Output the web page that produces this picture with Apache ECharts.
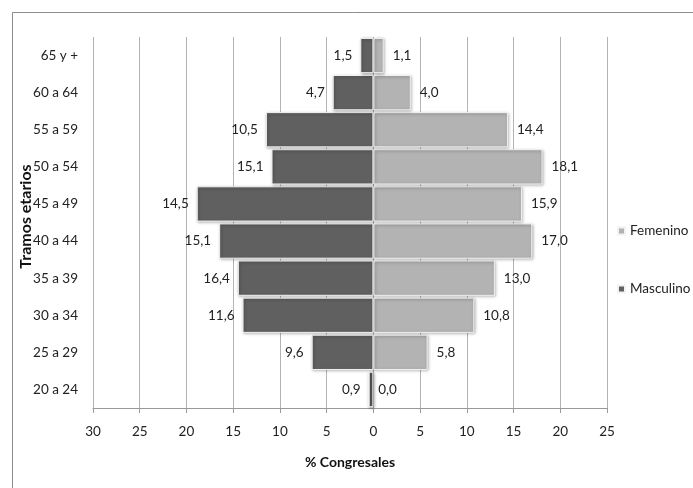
<!DOCTYPE html>
<html>
<head>
<meta charset="utf-8">
<script src="https://cdn.jsdelivr.net/npm/echarts@6/dist/echarts.min.js"></script>
<style>html,body{margin:0;padding:0;background:#fff;}#c{width:693px;height:488px;}</style>
</head>
<body>
<div id="c"></div>
<script>
var categories = ['20 a 24','25 a 29','30 a 34','35 a 39','40 a 44','45 a 49','50 a 54','55 a 59','60 a 64','65 y +'];
var masculinoBars = [0.5, 6.6, 14.0, 14.5, 16.5, 18.9, 10.9, 11.5, 4.35, 1.4];
var masculinoLabels = [0.9, 9.6, 11.6, 16.4, 15.1, 14.5, 15.1, 10.5, 4.7, 1.5];
var femeninoBars = [0.0, 5.8, 10.8, 13.0, 17.0, 15.9, 18.1, 14.4, 4.0, 1.1];
var femeninoLabels = [0.0, 5.8, 10.8, 13.0, 17.0, 15.9, 18.1, 14.4, 4.0, 1.1];

var font = 'Lato';
function fmt(v){ return v.toFixed(1).replace('.', ','); }

var chart = echarts.init(document.getElementById('c'));
chart.setOption({
  animation: false,
  textStyle: { fontFamily: font },
  graphic: [{
    type: 'rect',
    shape: { x: 12.5, y: 12.5, width: 720, height: 520 },
    style: { fill: 'none', stroke: '#8c8c8c', lineWidth: 1 }
  }],
  legend: {
    orient: 'vertical', left: 612, top: 219,
    itemWidth: 7, itemHeight: 7, itemGap: 44,
    icon: 'rect',
    textStyle: { fontFamily: font, fontSize: 13.5, color: '#222' },
    data: ['Femenino', 'Masculino']
  },
  grid: { left: 93, right: 86, top: 37, bottom: 80, containLabel: false },
  xAxis: {
    type: 'value', min: -30, max: 25, interval: 5,
    name: '% Congresales', nameLocation: 'middle', nameGap: 47,
    nameTextStyle: { fontFamily: font, fontSize: 14, fontWeight: 'bold', color: '#111' },
    axisLine: { show: true, lineStyle: { color: '#9a9a9a' } },
    axisTick: { show: true, length: 5, lineStyle: { color: '#9a9a9a' } },
    axisLabel: { fontFamily: font, fontSize: 13.5, color: '#222', margin: 17,
      formatter: function(v){ return Math.abs(v); } },
    splitLine: { show: true, lineStyle: { color: '#b4b4b4' } }
  },
  yAxis: {
    type: 'category', data: categories,
    name: 'Tramos etarios', nameLocation: 'middle', nameGap: 59, nameRotate: 90,
    nameMoveOverlap: false,
    nameTextStyle: { fontFamily: font, fontSize: 16, fontWeight: 'bold', color: '#111', padding: [0, 0, 0, 12] },
    axisLine: { show: false }, axisTick: { show: false },
    axisLabel: { fontFamily: font, fontSize: 13.5, color: '#222', margin: 15 },
    splitLine: { show: false }
  },
  series: [
    {
      name: 'Masculino', type: 'bar', stack: 'p', barCategoryGap: '5%',
      data: masculinoBars.map(function(v){ return -v; }),
      itemStyle: { color: '#606060', borderColor: '#f2f2f2', borderWidth: 1,
        shadowColor: 'rgba(0,0,0,0.35)', shadowBlur: 3, shadowOffsetX: 1, shadowOffsetY: 1 },
      label: { show: true, position: 'left', distance: 8, fontFamily: font, fontSize: 13.5, color: '#222',
        formatter: function(p){ return fmt(masculinoLabels[p.dataIndex]); } }
    },
    {
      name: 'Femenino', type: 'bar', stack: 'p', barCategoryGap: '5%',
      data: femeninoBars,
      itemStyle: { color: '#b3b3b3', borderColor: '#f2f2f2', borderWidth: 1,
        shadowColor: 'rgba(0,0,0,0.35)', shadowBlur: 3, shadowOffsetX: 1, shadowOffsetY: 1 },
      label: { show: true, position: 'right', distance: 9, fontFamily: font, fontSize: 13.5, color: '#222',
        formatter: function(p){ return fmt(femeninoLabels[p.dataIndex]); } }
    }
  ]
});
</script>
</body>
</html>
